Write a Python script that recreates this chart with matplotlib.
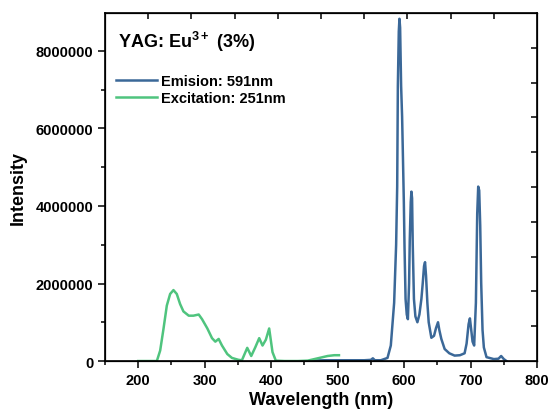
import numpy as np
import matplotlib.pyplot as plt
from matplotlib.ticker import MultipleLocator, FixedLocator

plt.rcParams['font.family'] = ['Liberation Sans', 'DejaVu Sans']
plt.rcParams['font.weight'] = 'bold'
plt.rcParams['axes.labelweight'] = 'bold'
plt.rcParams['mathtext.fontset'] = 'custom'
plt.rcParams['mathtext.rm'] = 'Liberation Sans:bold'
plt.rcParams['mathtext.bf'] = 'Liberation Sans:bold'

# excitation spectrum (monitored at 591 nm)
exc_wl = [200, 203, 228, 233, 238, 243, 248, 253, 258, 263, 268, 276, 283, 291, 296,
          304, 311, 316, 321, 326, 334, 341, 351, 356, 364, 370, 376, 382, 387, 392,
          397, 402, 407, 420, 440, 455, 465, 475, 485, 495, 502]
exc_int = [0, 0, 0, 0.27e6, 0.83e6, 1.43e6, 1.73e6, 1.83e6, 1.73e6, 1.47e6, 1.28e6,
           1.17e6, 1.17e6, 1.2e6, 1.08e6, 0.84e6, 0.59e6, 0.5e6, 0.57e6, 0.4e6, 0.18e6,
           0.08e6, 0.03e6, 0.02e6, 0.34e6, 0.13e6, 0.35e6, 0.59e6, 0.4e6, 0.55e6,
           0.84e6, 0.23e6, 0.01e6, 0, 0, 0.01e6, 0.05e6, 0.09e6, 0.13e6, 0.15e6, 0.15e6]

# emission spectrum (excited at 251 nm)
emi_wl = [460, 480, 500, 520, 540, 550, 553, 556, 565, 575, 580, 585, 588, 589.6,
          590.6, 592, 593, 594, 595.5, 597, 598, 599.6, 600.6, 602.2, 604, 605.7,
          607.5, 608.5, 610, 611, 612, 613, 614.8, 617, 620, 623, 626, 628, 630,
          631.5, 633, 635, 637, 641, 645, 648, 651, 653, 656, 661, 668, 676, 684,
          691, 694, 697, 699, 701, 703, 705.4, 708, 710, 711.5, 713, 714.5, 716,
          718, 720, 724, 735, 742, 746, 750, 754]
emi_int = [0.01e6, 0.02e6, 0.02e6, 0.02e6, 0.02e6, 0.03e6, 0.07e6, 0.02e6, 0.02e6,
           0.08e6, 0.4e6, 1.5e6, 3.0e6, 4.5e6, 7.1e6, 8.5e6, 8.83e6, 8.6e6, 7.1e6,
           6.3e6, 5.47e6, 4.1e6, 2.97e6, 1.6e6, 1.2e6, 1.08e6, 2.0e6, 3.1e6, 4.1e6,
           4.37e6, 4.2e6, 3.0e6, 1.6e6, 1.15e6, 1.0e6, 1.2e6, 1.6e6, 2.0e6, 2.45e6,
           2.55e6, 2.2e6, 1.5e6, 1.0e6, 0.6e6, 0.65e6, 0.85e6, 1.0e6, 0.8e6, 0.57e6,
           0.31e6, 0.2e6, 0.14e6, 0.15e6, 0.2e6, 0.45e6, 0.95e6, 1.1e6, 0.8e6, 0.5e6,
           0.4e6, 1.5e6, 3.8e6, 4.5e6, 4.4e6, 3.5e6, 2.0e6, 0.8e6, 0.35e6, 0.1e6,
           0.05e6, 0.06e6, 0.13e6, 0.05e6, 0]

fig = plt.figure(figsize=(5.48, 4.10), dpi=100)
ax = fig.add_axes([0.1916, 0.117, 0.7884, 0.849])

ax.plot(emi_wl, emi_int, color='#3b6898', lw=1.8, label='Emision: 591nm')
ax.plot(exc_wl, exc_int, color='#4fc47e', lw=1.8, label='Excitation: 251nm')

ax.set_xlim(150, 800)
ax.set_ylim(0, 8.98e6)
ax.xaxis.set_major_locator(MultipleLocator(100))
ax.xaxis.set_minor_locator(MultipleLocator(50))
ax.yaxis.set_major_locator(MultipleLocator(2e6))
ax.yaxis.set_minor_locator(MultipleLocator(1e6))
ax.ticklabel_format(style='plain', useOffset=False)
ax.tick_params(which='major', direction='out', length=5, width=1.1, labelsize=10.5)
ax.tick_params(which='minor', direction='out', length=3, width=1.1)
for s in ax.spines.values():
    s.set_linewidth(1.2)

# top / right axes with their own equal divisions, ticks inward
ax_top = ax.twiny()
ax_top.set_xlim(0, 10)
ax_top.xaxis.set_major_locator(FixedLocator(range(1, 10)))
ax_top.tick_params(axis='x', direction='in', length=4, width=1.1, labeltop=False)
ax_right = ax.twinx()
ax_right.set_ylim(0, 10)
ax_right.yaxis.set_major_locator(FixedLocator(range(1, 10)))
ax_right.tick_params(axis='y', direction='in', length=4, width=1.1, labelright=False)

ax.set_xlabel('Wavelength (nm)', fontsize=13, labelpad=3)
ax.set_ylabel('Intensity', fontsize=13, labelpad=6)

ax.text(0.03, 0.92, r'YAG: Eu$^{3+}$ (3%)', transform=ax.transAxes,
        fontsize=13, va='center', ha='left')
ax.legend(loc='upper left', bbox_to_anchor=(0.025, 0.824), frameon=False,
          handlelength=2.8, handletextpad=0.3, labelspacing=0.2,
          borderaxespad=0, borderpad=0, fontsize=10.5)

plt.savefig('out.png', dpi=100)
